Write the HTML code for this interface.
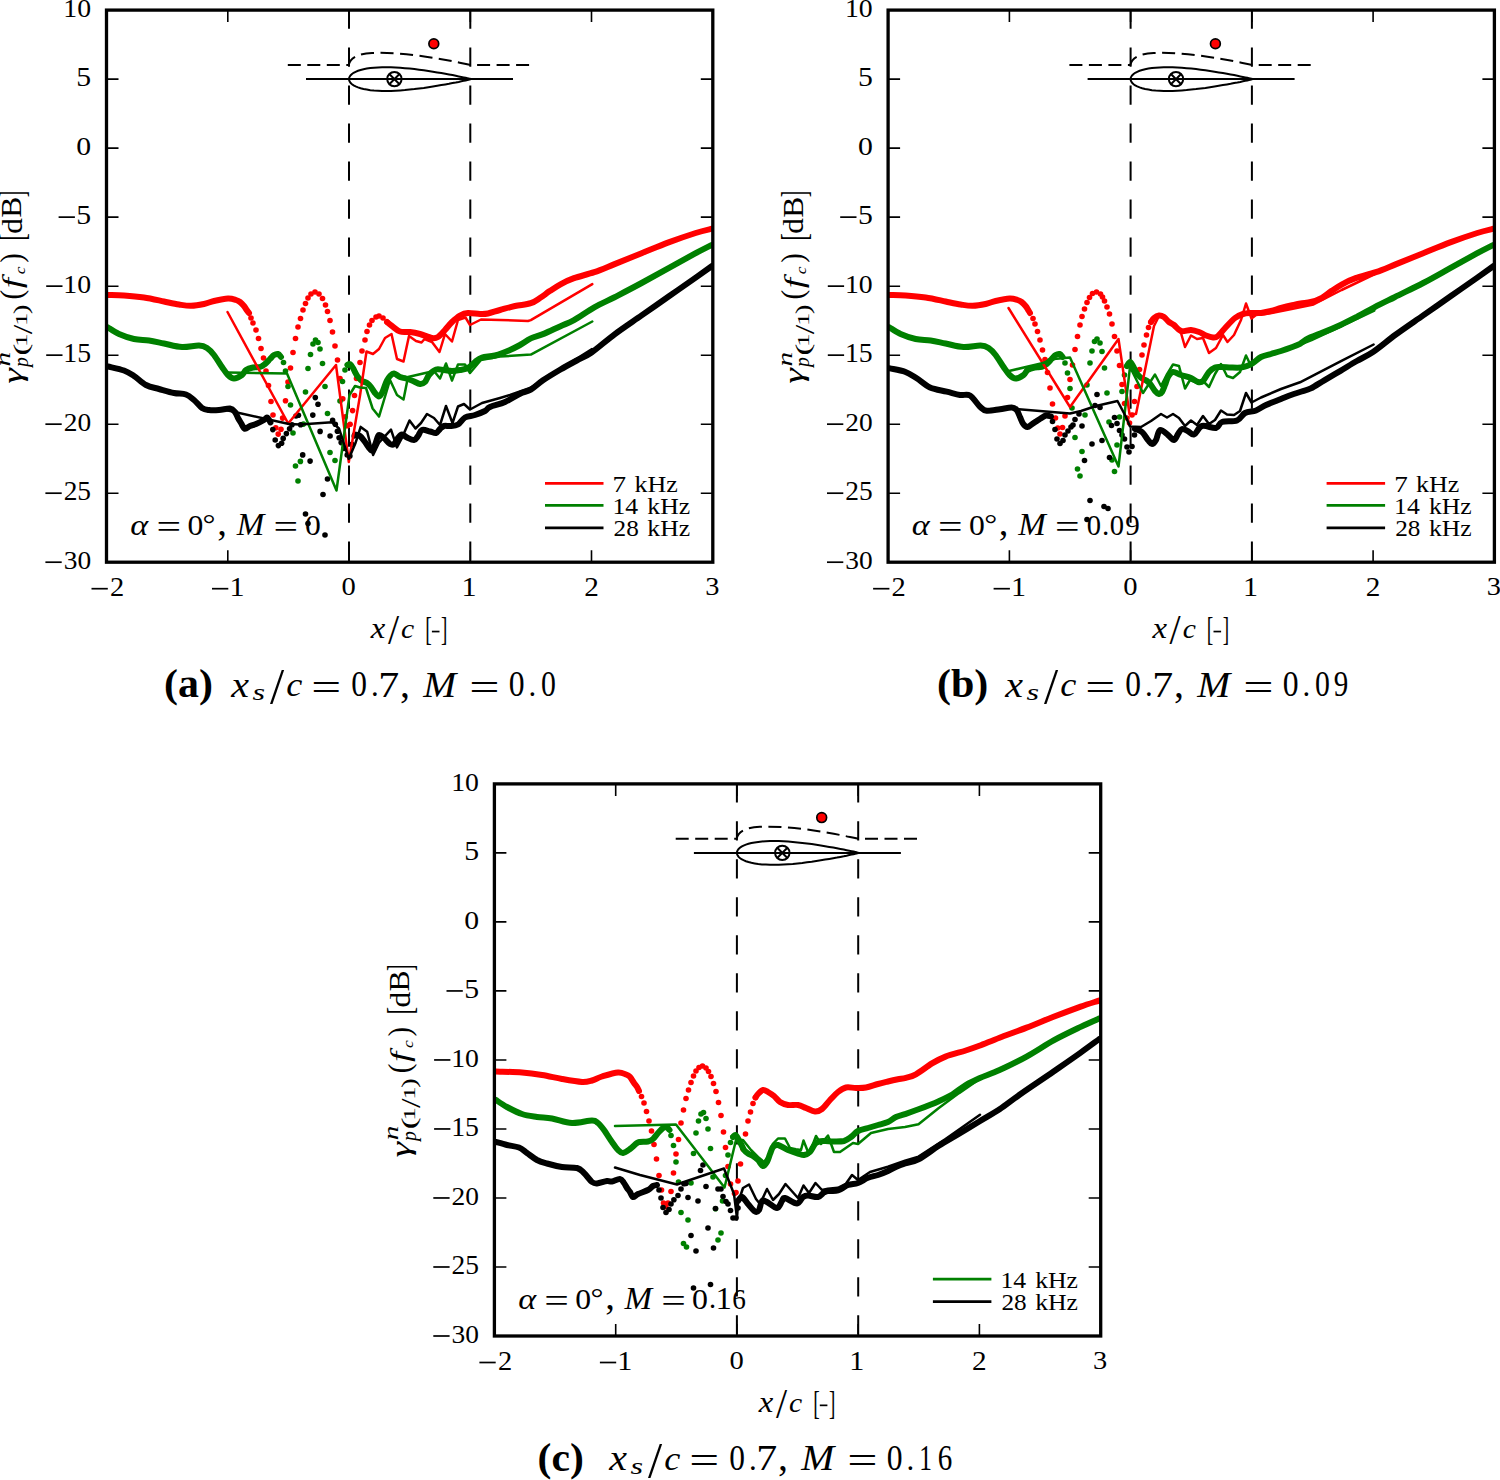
<!DOCTYPE html>
<html><head><meta charset="utf-8"><style>html,body{margin:0;padding:0;background:#fff;overflow:hidden;}svg{display:block;}</style></head>
<body><svg width="1500" height="1480" viewBox="0 0 1500 1480">
<rect width="1500" height="1480" fill="#fff"/>
<g transform="translate(0,0)"><clipPath id="clipa"><rect x="106.5" y="10.1" width="606.3" height="552.1"/></clipPath><line x1="349" y1="8.6" x2="349" y2="562.2" stroke="#000" stroke-width="2" stroke-dasharray="19.3 18.7" stroke-dashoffset="-0.8"/><line x1="470.3" y1="8.6" x2="470.3" y2="562.2" stroke="#000" stroke-width="2" stroke-dasharray="19.3 18.7" stroke-dashoffset="-0.8"/><path d="M349.0,79.1 L349.2,77.7 L349.8,76.4 L350.7,75.2 L352.0,74.0 L353.6,72.8 L355.6,71.8 L358.0,70.8 L360.6,70.0 L363.5,69.2 L366.8,68.6 L370.3,68.1 L374.0,67.7 L378.0,67.4 L382.1,67.2 L386.4,67.2 L390.9,67.3 L395.5,67.5 L400.2,67.8 L404.9,68.2 L409.6,68.6 L414.4,69.1 L419.1,69.7 L423.8,70.3 L428.4,71.0 L432.9,71.7 L437.2,72.4 L441.3,73.1 L445.3,73.8 L449.0,74.5 L452.5,75.1 L455.8,75.8 L458.7,76.4 L461.3,76.9 L463.7,77.4 L465.7,77.8 L467.3,78.2 L468.6,78.5 L469.5,78.7 L470.1,78.8 L470.3,78.9 L470.1,79.4 L469.5,79.5 L468.6,79.7 L467.3,80.0 L465.7,80.4 L463.7,80.8 L461.3,81.3 L458.7,81.9 L455.8,82.5 L452.5,83.1 L449.0,83.8 L445.3,84.4 L441.3,85.1 L437.2,85.8 L432.9,86.5 L428.4,87.2 L423.8,87.9 L419.1,88.5 L414.4,89.1 L409.6,89.6 L404.9,90.1 L400.2,90.4 L395.5,90.7 L390.9,90.9 L386.4,91.0 L382.1,91.0 L378.0,90.8 L374.0,90.6 L370.3,90.2 L366.8,89.6 L363.5,89.0 L360.6,88.2 L358.0,87.4 L355.6,86.4 L353.6,85.4 L352.0,84.2 L350.7,83.1 L349.8,81.8 L349.2,80.5 L349.0,79.1 Z" fill="none" stroke="#000" stroke-width="2"/><line x1="306" y1="79.1" x2="513" y2="79.1" stroke="#000" stroke-width="2"/><circle cx="394.4" cy="79.1" r="7.2" fill="none" stroke="#000" stroke-width="2"/><path d="M389.3,74.0 L399.5,84.2 M389.3,84.2 L399.5,74.0" stroke="#000" stroke-width="2"/><path d="M287.8,64.9 L348.8,64.9 C350,58 358,53.5 372,53 C395,52 420,55.5 440,59 C455,61.5 463,63.5 470.6,64.9 L530.4,64.9" fill="none" stroke="#000" stroke-width="2" stroke-dasharray="13 6.5"/><circle cx="433.8" cy="43.8" r="4.9" fill="#ff0000" stroke="#000" stroke-width="1.7"/><g clip-path="url(#clipa)"><path d="M108,295 C110.7,295.1 118,295.1 124,295.5 C130,295.9 137.3,296.5 144,297.5 C150.7,298.5 158.2,300.3 164,301.5 C169.8,302.7 174.5,303.8 179,304.5 C183.5,305.2 186.8,305.9 191,305.8 C195.2,305.7 200.2,304.8 204,304 C207.8,303.2 210,301.9 214,301 C218,300.1 224.3,298.7 228,298.5 C231.7,298.3 234,299.4 236,300 C238,300.6 238.7,301 240,302 C241.3,303 243,304.8 244,306 C245,307.2 245.2,307.8 246,309 C246.8,310.2 248.5,312.3 249,313" fill="none" stroke="#ff0000" stroke-width="6.0" stroke-linejoin="round" stroke-linecap="round"/><circle cx="251" cy="318" r="2.8" fill="#ff0000"/><circle cx="253" cy="323" r="2.8" fill="#ff0000"/><circle cx="256" cy="330" r="2.8" fill="#ff0000"/><circle cx="258.5" cy="338.5" r="2.8" fill="#ff0000"/><circle cx="261" cy="348.5" r="2.8" fill="#ff0000"/><circle cx="263.5" cy="358" r="2.8" fill="#ff0000"/><circle cx="266" cy="371" r="2.8" fill="#ff0000"/><circle cx="268.5" cy="385.5" r="2.8" fill="#ff0000"/><circle cx="271" cy="401.5" r="2.8" fill="#ff0000"/><circle cx="273" cy="415" r="2.8" fill="#ff0000"/><circle cx="275.8" cy="427.8" r="2.8" fill="#ff0000"/><circle cx="278.2" cy="434.1" r="2.8" fill="#ff0000"/><circle cx="281" cy="429.2" r="2.8" fill="#ff0000"/><circle cx="282.6" cy="418.1" r="2.8" fill="#ff0000"/><circle cx="285.5" cy="400.8" r="2.8" fill="#ff0000"/><circle cx="288" cy="382" r="2.8" fill="#ff0000"/><circle cx="290.5" cy="368" r="2.8" fill="#ff0000"/><circle cx="293" cy="352.5" r="2.8" fill="#ff0000"/><circle cx="295.5" cy="338.5" r="2.8" fill="#ff0000"/><circle cx="298" cy="327" r="2.8" fill="#ff0000"/><circle cx="300.5" cy="318.5" r="2.8" fill="#ff0000"/><circle cx="303" cy="310" r="2.8" fill="#ff0000"/><circle cx="305.5" cy="303.5" r="2.8" fill="#ff0000"/><circle cx="308" cy="298" r="2.8" fill="#ff0000"/><circle cx="311" cy="294" r="2.8" fill="#ff0000"/><circle cx="315" cy="292" r="2.8" fill="#ff0000"/><circle cx="319" cy="294" r="2.8" fill="#ff0000"/><circle cx="322.5" cy="298.5" r="2.8" fill="#ff0000"/><circle cx="325.5" cy="305" r="2.8" fill="#ff0000"/><circle cx="327.5" cy="311.5" r="2.8" fill="#ff0000"/><circle cx="330" cy="320.5" r="2.8" fill="#ff0000"/><circle cx="332.5" cy="332" r="2.8" fill="#ff0000"/><circle cx="335" cy="346" r="2.8" fill="#ff0000"/><circle cx="337.5" cy="360" r="2.8" fill="#ff0000"/><circle cx="340" cy="378.5" r="2.8" fill="#ff0000"/><circle cx="342.8" cy="398.8" r="2.8" fill="#ff0000"/><circle cx="345.3" cy="416.8" r="2.8" fill="#ff0000"/><circle cx="347.2" cy="425.8" r="2.8" fill="#ff0000"/><circle cx="350.1" cy="424.2" r="2.8" fill="#ff0000"/><circle cx="352.6" cy="410.6" r="2.8" fill="#ff0000"/><circle cx="354.5" cy="395.5" r="2.8" fill="#ff0000"/><circle cx="356.5" cy="378.5" r="2.8" fill="#ff0000"/><circle cx="360" cy="362.5" r="2.8" fill="#ff0000"/><circle cx="362" cy="351" r="2.8" fill="#ff0000"/><circle cx="365" cy="340" r="2.8" fill="#ff0000"/><circle cx="367" cy="331.5" r="2.8" fill="#ff0000"/><circle cx="369.5" cy="325" r="2.8" fill="#ff0000"/><circle cx="372" cy="320.5" r="2.8" fill="#ff0000"/><circle cx="376" cy="317" r="2.8" fill="#ff0000"/><circle cx="379" cy="316" r="2.8" fill="#ff0000"/><circle cx="383" cy="318" r="2.8" fill="#ff0000"/><circle cx="387" cy="322" r="2.8" fill="#ff0000"/><path d="M387,322 C387.8,322.7 389.8,324.4 392,326 C394.2,327.6 397,330.5 400,331.5 C403,332.5 406.7,331.6 410,332 C413.3,332.4 416.3,333 420,334 C423.7,335 429,337.5 432,338 C435,338.5 435.8,338.3 438,337 C440.2,335.7 442.7,332.5 445,330 C447.3,327.5 449.5,324.4 452,322 C454.5,319.6 457.3,317 460,315.5 C462.7,314 464.7,313.2 468,313 C471.3,312.8 476.7,313.9 480,314 C483.3,314.1 484.7,314.2 488,313.5 C491.3,312.8 495.5,311.2 500,310 C504.5,308.8 509.9,307.1 515,306 C520.1,304.9 526.6,304.6 530.8,303.2 C535,301.8 537.1,299.8 540.3,297.8 C543.4,295.8 546.3,293.4 549.7,291.1 C553.1,288.9 556.5,286.5 560.5,284.3 C564.5,282.1 568.4,280.2 574,278.2 C579.6,276.2 587.5,274.5 594.3,272.2 C601.1,269.9 606.7,267.3 614.6,264.1 C622.5,260.9 632.6,256.8 641.6,253.2 C650.6,249.6 659.6,245.8 668.6,242.4 C677.6,239 688.5,235.3 695.7,233 C702.9,230.7 709.3,229.4 712,228.7" fill="none" stroke="#ff0000" stroke-width="6.0" stroke-linejoin="round" stroke-linecap="round"/><path d="M108,327.5 C109.8,328.6 114.7,332.1 119,334 C123.3,335.9 129,337.9 134,339 C139,340.1 144,339.8 149,340.5 C154,341.2 158.5,342.4 164,343.5 C169.5,344.6 176.2,346.7 182,347 C187.8,347.3 194.8,345.3 199,345.5 C203.2,345.7 204.5,346.4 207,348 C209.5,349.6 211.5,351.8 214,355 C216.5,358.2 219.7,363.7 222,367 C224.3,370.3 226,373.1 228,375 C230,376.9 231.7,378.5 234,378.5 C236.3,378.5 240,376.4 242,375 C244,373.6 244.2,371.2 246,370 C247.8,368.8 250.7,368 253,367.5 C255.3,367 258,367.6 260,367 C262,366.4 263.3,365.3 265,364 C266.7,362.7 268.5,360.5 270,359 C271.5,357.5 272.7,355.8 274,355 C275.3,354.2 276.8,353.7 278,354 C279.2,354.3 280.5,356.5 281,357" fill="none" stroke="#008000" stroke-width="6.0" stroke-linejoin="round" stroke-linecap="round"/><circle cx="283.5" cy="362.5" r="2.8" fill="#008000"/><circle cx="285.5" cy="371" r="2.8" fill="#008000"/><circle cx="288" cy="386.5" r="2.8" fill="#008000"/><circle cx="290.5" cy="405" r="2.8" fill="#008000"/><circle cx="293" cy="433" r="2.8" fill="#008000"/><circle cx="295.5" cy="466" r="2.8" fill="#008000"/><circle cx="298" cy="481" r="2.8" fill="#008000"/><circle cx="300.4" cy="461.4" r="2.8" fill="#008000"/><circle cx="303.4" cy="424.1" r="2.8" fill="#008000"/><circle cx="305.5" cy="392" r="2.8" fill="#008000"/><circle cx="308" cy="368.5" r="2.8" fill="#008000"/><circle cx="310.5" cy="354.5" r="2.8" fill="#008000"/><circle cx="313" cy="344" r="2.8" fill="#008000"/><circle cx="315.5" cy="340" r="2.8" fill="#008000"/><circle cx="318" cy="342.5" r="2.8" fill="#008000"/><circle cx="320" cy="349" r="2.8" fill="#008000"/><circle cx="322.5" cy="363.5" r="2.8" fill="#008000"/><circle cx="325" cy="386.5" r="2.8" fill="#008000"/><circle cx="327.5" cy="413.5" r="2.8" fill="#008000"/><circle cx="330" cy="452.5" r="2.8" fill="#008000"/><circle cx="335" cy="460.5" r="2.8" fill="#008000"/><circle cx="340" cy="401" r="2.8" fill="#008000"/><circle cx="342.5" cy="381.5" r="2.8" fill="#008000"/><circle cx="345" cy="370" r="2.8" fill="#008000"/><circle cx="347.5" cy="365" r="2.8" fill="#008000"/><path d="M347.5,365 C347.9,364.8 349.1,363.5 350,364 C350.9,364.5 352.2,366.7 353,368 C353.8,369.3 354.2,370.5 355,372 C355.8,373.5 356.8,375.5 358,377 C359.2,378.5 360.5,380 362,381 C363.5,382 365.5,382 367,383 C368.5,384 369.7,385.3 371,387 C372.3,388.7 373.7,391.4 375,393 C376.3,394.6 377.8,396.5 379,396.5 C380.2,396.5 381.1,394.7 382,393 C382.9,391.3 383.7,388.6 384.5,386.5 C385.3,384.4 386.1,382.2 387,380.5 C387.9,378.8 388.8,377.2 390,376 C391.2,374.8 392.3,373.3 394,373.5 C395.7,373.7 398,376.2 400,377 C402,377.8 403.8,377.8 406,378.5 C408.2,379.2 410.7,380.1 413,381 C415.3,381.9 418,383.8 420,384 C422,384.2 423.5,383.5 425,382 C426.5,380.5 427.2,377.1 429,375 C430.8,372.9 433.5,370.3 436,369.5 C438.5,368.7 441.3,369.8 444,370 C446.7,370.2 449.3,371 452,371 C454.7,371 457.3,370.5 460,370 C462.7,369.5 465.5,369.3 468,368 C470.5,366.7 472.7,363.8 475,362 C477.3,360.2 478.7,358.6 482,357.5 C485.3,356.4 490.3,356.8 495,355.5 C499.7,354.2 505.8,351.8 510,350 C514.2,348.2 516.5,346.9 520,345 C523.5,343.1 526.8,340.3 530.8,338.4 C534.8,336.5 539.3,335.6 544.3,333.6 C549.2,331.6 555.5,328.4 560.5,326.2 C565.5,323.9 568.4,323.2 574,320.1 C579.6,317 587.5,311.1 594.3,307.3 C601.1,303.5 606.7,301.2 614.6,297.2 C622.5,293.1 632.6,287.9 641.6,283 C650.6,278.1 659.6,273.1 668.6,268.1 C677.6,263.1 688.5,257.1 695.7,253.2 C702.9,249.3 709.3,246.2 712,244.8" fill="none" stroke="#008000" stroke-width="6.0" stroke-linejoin="round" stroke-linecap="round"/><path d="M108,366.5 C110.7,367.2 119.7,368.9 124,370.5 C128.3,372.1 130.3,373.6 134,376 C137.7,378.4 141.8,382.8 146,385 C150.2,387.2 154.3,387.7 159,389 C163.7,390.3 169.5,392.1 174,393 C178.5,393.9 182.7,393.3 186,394.5 C189.3,395.7 191.3,397.8 194,400 C196.7,402.2 199.5,406.3 202,408 C204.5,409.7 206.2,409.7 209,410 C211.8,410.3 215.5,410.2 219,410 C222.5,409.8 227.3,408.2 230,408.5 C232.7,408.8 233.7,410.4 235,412 C236.3,413.6 237,416.2 238,418 C239,419.8 239.9,421.2 241,423 C242.1,424.8 243.3,428.3 244.8,428.8 C246.3,429.3 248.1,426.8 250,426 C251.9,425.2 253.7,425 256,424 C258.3,423 262.1,421.1 264,420 C265.9,418.9 266.1,417.2 267.2,417.6 C268.3,418 269.9,421.6 270.4,422.4" fill="none" stroke="#000000" stroke-width="6.0" stroke-linejoin="round" stroke-linecap="round"/><circle cx="272.8" cy="429.6" r="2.8" fill="#000000"/><circle cx="275.2" cy="440" r="2.8" fill="#000000"/><circle cx="278.4" cy="445.6" r="2.8" fill="#000000"/><circle cx="281.6" cy="443.2" r="2.8" fill="#000000"/><circle cx="283.2" cy="438.4" r="2.8" fill="#000000"/><circle cx="286.4" cy="433.6" r="2.8" fill="#000000"/><circle cx="289.6" cy="428.8" r="2.8" fill="#000000"/><circle cx="292" cy="424.8" r="2.8" fill="#000000"/><circle cx="296" cy="416" r="2.8" fill="#000000"/><circle cx="298.4" cy="415.2" r="2.8" fill="#000000"/><circle cx="300.6" cy="424.8" r="2.8" fill="#000000"/><circle cx="302.7" cy="454.9" r="2.8" fill="#000000"/><circle cx="305.5" cy="514" r="2.8" fill="#000000"/><circle cx="308" cy="523.5" r="2.8" fill="#000000"/><circle cx="310.1" cy="461.1" r="2.8" fill="#000000"/><circle cx="312.8" cy="415.1" r="2.8" fill="#000000"/><circle cx="315.3" cy="397.6" r="2.8" fill="#000000"/><circle cx="318" cy="404.3" r="2.8" fill="#000000"/><circle cx="320.1" cy="431.4" r="2.8" fill="#000000"/><circle cx="323" cy="494.5" r="2.8" fill="#000000"/><circle cx="325" cy="535" r="2.8" fill="#000000"/><circle cx="327.5" cy="479" r="2.8" fill="#000000"/><circle cx="330.1" cy="436" r="2.8" fill="#000000"/><circle cx="332.6" cy="420.4" r="2.8" fill="#000000"/><circle cx="335.3" cy="424.2" r="2.8" fill="#000000"/><circle cx="337.4" cy="431.2" r="2.8" fill="#000000"/><circle cx="339.1" cy="437.7" r="2.8" fill="#000000"/><circle cx="341.2" cy="442.6" r="2.8" fill="#000000"/><circle cx="343.9" cy="448.5" r="2.8" fill="#000000"/><circle cx="347.2" cy="455" r="2.8" fill="#000000"/><circle cx="349.9" cy="456.1" r="2.8" fill="#000000"/><circle cx="352" cy="444.2" r="2.8" fill="#000000"/><circle cx="354.2" cy="436" r="2.8" fill="#000000"/><path d="M355,434.5 C355.8,434.8 358.3,434.8 360,436 C361.7,437.2 363.3,439.8 365,442 C366.7,444.2 368.7,447.7 370,449 C371.3,450.3 372,451.2 373,450 C374,448.8 375,444.5 376,442 C377,439.5 377.7,435.7 379,435 C380.3,434.3 382.2,436.5 384,438 C385.8,439.5 388.3,443 390,444 C391.7,445 392.7,445 394,444 C395.3,443 396.7,439.6 398,438 C399.3,436.4 400.5,434.6 402,434.5 C403.5,434.4 405,436.6 407,437.5 C409,438.4 412.2,440.2 414,440 C415.8,439.8 416.7,437.7 418,436 C419.3,434.3 420,430.8 422,430 C424,429.2 427.7,431 430,431.5 C432.3,432 434.3,433.4 436,433 C437.7,432.6 438.7,430.2 440,429 C441.3,427.8 442.3,426.5 444,426 C445.7,425.5 447.7,426.2 450,426 C452.3,425.8 455.5,425.9 458,424.5 C460.5,423.1 462.2,419.1 465,417.5 C467.8,415.9 471.7,416.1 475,415 C478.3,413.9 482.5,412.3 485,411 C487.5,409.7 486.7,408.5 490,407 C493.3,405.5 500,404.2 505,402 C510,399.8 515.7,395.9 520,393.8 C524.3,391.8 527,391.9 530.8,389.7 C534.6,387.4 538,383.7 543,380.3 C548,376.9 554.9,372.8 560.5,369.5 C566.1,366.2 571.6,363.3 576.8,360.5 C582,357.7 585.3,356.9 591.6,352.5 C597.9,348.1 606.3,340.5 614.6,334.3 C622.9,328.1 632.6,321.7 641.6,315.4 C650.6,309.1 659.6,302.8 668.6,296.5 C677.6,290.2 688.5,282.7 695.7,277.6 C702.9,272.5 709.3,267.9 712,266" fill="none" stroke="#000000" stroke-width="6.0" stroke-linejoin="round" stroke-linecap="round"/><polyline points="227.5,312 288.2,423.5 336,365 348.8,462 360.1,395 366.5,351.5 373,354 379,349 385,338 391.5,334 397,359 403.5,361.5 409,336 416,341 421.5,342.5 424.5,339 432,342 439.5,352 445,334 452,341.5 458,320 465.5,317.5 470,325 481,319.5 500,320 528,321 530.8,320.1 592.3,284.1" fill="none" stroke="#ff0000" stroke-width="2.5" stroke-linejoin="round" stroke-linecap="round"/><polyline points="228,372.5 287,373.5 336.5,490.5 349.5,395 355,386 360,387.5 366,388 372.6,408.5 379,416.6 390,380 397,395 403.5,399.5 408,377 434,371 440,378.5 446,363.5 452,380.5 458,364.5 465,364.5 470,373 481,360 500,356.5 530.8,354.6 592.3,321.5" fill="none" stroke="#008000" stroke-width="2.5" stroke-linejoin="round" stroke-linecap="round"/><polyline points="228,410.5 289,424 300,424.5 332,422.3 339,428.5 348.8,458.8 355.3,443.6 360.7,426.9 367.2,431.8 373.1,455 379,442.6 391,429.6 396.9,447.4 401.8,438.2 409.5,420.5 415.5,428.5 421,423 427,414 434,418 440,425 446,406 452.5,423 458,406.5 464,404 470,409.5 482,403 500,398 510,395 530,388 592,349" fill="none" stroke="#000000" stroke-width="2.5" stroke-linejoin="round" stroke-linecap="round"/></g><rect x="106.5" y="10.1" width="606.3" height="552.1" fill="none" stroke="#000" stroke-width="3.3"/><path d="M227.8,10.1 v12 M227.8,562.2 v-12 M349,10.1 v12 M349,562.2 v-12 M470.3,10.1 v12 M470.3,562.2 v-12 M591.5,10.1 v12 M591.5,562.2 v-12 M106.5,493.2 h12 M712.8,493.2 h-12 M106.5,424.2 h12 M712.8,424.2 h-12 M106.5,355.2 h12 M712.8,355.2 h-12 M106.5,286.2 h12 M712.8,286.2 h-12 M106.5,217.1 h12 M712.8,217.1 h-12 M106.5,148.1 h12 M712.8,148.1 h-12 M106.5,79.1 h12 M712.8,79.1 h-12" stroke="#000" stroke-width="1.6" fill="none"/><g font-family="Liberation Serif"><text transform="translate(63.67,569.14) scale(1.031,0.980)" font-size="26.60">30</text><rect x="45.40" y="561.35" width="16.30" height="1.7"/><text transform="translate(63.67,500.12) scale(1.031,0.988)" font-size="26.60">25</text><rect x="45.40" y="492.34" width="16.30" height="1.7"/><text transform="translate(63.67,431.11) scale(1.031,0.980)" font-size="26.60">20</text><rect x="45.40" y="423.32" width="16.30" height="1.7"/><text transform="translate(63.34,362.10) scale(1.044,0.988)" font-size="26.60">15</text><rect x="46.20" y="354.31" width="16.30" height="1.7"/><text transform="translate(63.34,293.09) scale(1.044,0.980)" font-size="26.60">10</text><rect x="46.20" y="285.30" width="16.30" height="1.7"/><text transform="translate(76.31,224.07) scale(1.118,0.995)" font-size="26.60">5</text><rect x="58.60" y="216.29" width="16.30" height="1.7"/><text transform="translate(76.31,155.06) scale(1.119,0.980)" font-size="26.60">0</text><text transform="translate(76.31,86.05) scale(1.118,0.995)" font-size="26.60">5</text><text transform="translate(63.34,17.04) scale(1.044,0.980)" font-size="26.60">10</text><text transform="translate(110.02,595.70) scale(1.071,0.991)" font-size="26.60">2</text><rect x="91.50" y="587.85" width="16.30" height="1.7"/><text transform="translate(229.44,595.70) scale(1.133,0.991)" font-size="26.60">1</text><rect x="212.00" y="587.85" width="16.30" height="1.7"/><text transform="translate(341.56,595.44) scale(1.074,0.969)" font-size="26.60">0</text><text transform="translate(461.44,595.70) scale(1.133,0.991)" font-size="26.60">1</text><text transform="translate(584.18,595.70) scale(1.100,0.991)" font-size="26.60">2</text><text transform="translate(705.22,595.44) scale(1.069,0.976)" font-size="26.60">3</text><text transform="translate(370.79,638.00) scale(1.089,0.964)" font-size="30.00" font-style="italic">x</text><text transform="translate(388.00,644.27) scale(1.333,1.428)" font-size="30.00">/</text><text transform="translate(401.11,637.72) scale(0.988,0.924)" font-size="30.00" font-style="italic">c</text><text transform="translate(425.23,640.03) scale(0.652,1.153)" font-size="30.00">[</text><rect x="431.9" y="630.7" width="7.6" height="1.7"/><text transform="translate(441.03,640.03) scale(0.637,1.153)" font-size="30.00">]</text><g transform="translate(21.6,382.9) rotate(-90)"><text transform="translate(-0.79,0.28) scale(1.316,0.933)" font-size="30.00" font-style="italic">γ</text><text transform="translate(16.48,-11.20) scale(1.459,1.000)" font-size="20.00" font-style="italic">n</text><text transform="translate(15.78,6.27) scale(0.981,1.007)" font-size="20.00" font-style="italic">p</text><text transform="translate(27.24,6.65) scale(1.843,1.011)" font-size="20.00">(</text><text transform="translate(36.00,5.80) scale(1.591,0.963)" font-size="17.00">1</text><text transform="translate(48.70,10.73) scale(1.727,1.373)" font-size="20.00">/</text><text transform="translate(56.83,5.80) scale(1.574,0.963)" font-size="17.00">1</text><text transform="translate(68.62,6.65) scale(1.462,1.011)" font-size="20.00">)</text><text transform="translate(83.38,0.09) scale(0.980,1.040)" font-size="30.00">(</text><text transform="translate(94.73,-0.16) scale(1.221,0.924)" font-size="30.00" font-style="italic">f</text><text transform="translate(108.67,3.25) scale(0.877,0.729)" font-size="20.00" font-style="italic">c</text><text transform="translate(120.23,0.09) scale(0.962,1.040)" font-size="30.00">)</text><text transform="translate(142.46,2.68) scale(0.727,1.165)" font-size="30.00">[</text><text transform="translate(149.11,0.01) scale(1.040,0.969)" font-size="30.00">d</text><text transform="translate(165.15,-0.15) scale(1.051,1.005)" font-size="30.00">B</text><text transform="translate(185.62,2.68) scale(0.652,1.165)" font-size="30.00">]</text></g><text transform="translate(130.27,534.81) scale(1.107,0.941)" font-size="31.00" font-style="italic">α</text><text transform="translate(156.42,538.49) scale(1.408,1.084)" font-size="31.00">=</text><text transform="translate(187.43,534.80) scale(1.022,0.970)" font-size="31.00">0</text><text transform="translate(202.54,533.11) scale(1.047,0.888)" font-size="31.00">°</text><text transform="translate(217.26,534.94) scale(1.246,1.240)" font-size="31.00">,</text><text transform="translate(236.63,535.10) scale(1.069,1.000)" font-size="31.00" font-style="italic">M</text><text transform="translate(273.42,538.49) scale(1.408,1.084)" font-size="31.00">=</text><text transform="translate(304.93,534.80) scale(1.022,0.970)" font-size="31.00">0</text><line x1="545" y1="483.4" x2="603.5" y2="483.4" stroke="#ff0000" stroke-width="2.8"/><text transform="translate(612.53,491.70) scale(1.207,1.038)" font-size="22.50">7</text><text transform="translate(634.48,491.70) scale(1.156,1.023)" font-size="22.50">kHz</text><line x1="545" y1="505.4" x2="603.5" y2="505.4" stroke="#008000" stroke-width="2.8"/><text transform="translate(612.52,513.70) scale(1.141,1.030)" font-size="22.50">14</text><text transform="translate(647.29,513.70) scale(1.142,1.023)" font-size="22.50">kHz</text><line x1="545" y1="527.9" x2="603.5" y2="527.9" stroke="#000000" stroke-width="2.8"/><text transform="translate(613.56,535.77) scale(1.122,1.007)" font-size="22.50">28</text><text transform="translate(647.29,536.00) scale(1.142,1.023)" font-size="22.50">kHz</text><g transform="translate(0.00,0)"><text transform="translate(164.11,697.49) scale(1.165,1.099)" font-size="36.00" font-weight="bold">(a)</text><text transform="translate(231.30,696.50) scale(1.111,0.996)" font-size="36.00" font-style="italic">x</text><text transform="translate(252.38,699.76) scale(1.291,0.942)" font-size="25.00" font-style="italic">s</text><text transform="translate(270.00,703.49) scale(1.414,1.410)" font-size="36.00">/</text><text transform="translate(286.21,696.16) scale(1.008,0.955)" font-size="36.00" font-style="italic">c</text><text transform="translate(311.34,699.63) scale(1.476,1.033)" font-size="36.00">=</text><text transform="translate(351.24,696.14) scale(0.873,0.988)" font-size="36.00">0</text><text transform="translate(371.00,696.02) scale(0.856,0.880)" font-size="36.00">.</text><text transform="translate(378.27,696.50) scale(1.166,1.018)" font-size="36.00">7</text><text transform="translate(400.00,696.62) scale(1.111,1.089)" font-size="36.00">,</text><text transform="translate(423.20,696.50) scale(1.099,1.018)" font-size="36.00" font-style="italic">M</text><text transform="translate(469.31,699.63) scale(1.493,1.033)" font-size="36.00">=</text><text transform="translate(508.73,696.14) scale(0.880,0.988)" font-size="36.00">0</text><text transform="translate(528.60,696.02) scale(0.856,0.880)" font-size="36.00">.</text><text transform="translate(541.11,696.14) scale(0.827,0.988)" font-size="36.00">0</text></g></g></g><g transform="translate(781.6,0)"><clipPath id="clipb"><rect x="106.5" y="10.1" width="606.3" height="552.1"/></clipPath><line x1="349" y1="8.6" x2="349" y2="562.2" stroke="#000" stroke-width="2" stroke-dasharray="19.3 18.7" stroke-dashoffset="-0.8"/><line x1="470.3" y1="8.6" x2="470.3" y2="562.2" stroke="#000" stroke-width="2" stroke-dasharray="19.3 18.7" stroke-dashoffset="-0.8"/><path d="M349.0,79.1 L349.2,77.7 L349.8,76.4 L350.7,75.2 L352.0,74.0 L353.6,72.8 L355.6,71.8 L358.0,70.8 L360.6,70.0 L363.5,69.2 L366.8,68.6 L370.3,68.1 L374.0,67.7 L378.0,67.4 L382.1,67.2 L386.4,67.2 L390.9,67.3 L395.5,67.5 L400.2,67.8 L404.9,68.2 L409.6,68.6 L414.4,69.1 L419.1,69.7 L423.8,70.3 L428.4,71.0 L432.9,71.7 L437.2,72.4 L441.3,73.1 L445.3,73.8 L449.0,74.5 L452.5,75.1 L455.8,75.8 L458.7,76.4 L461.3,76.9 L463.7,77.4 L465.7,77.8 L467.3,78.2 L468.6,78.5 L469.5,78.7 L470.1,78.8 L470.3,78.9 L470.1,79.4 L469.5,79.5 L468.6,79.7 L467.3,80.0 L465.7,80.4 L463.7,80.8 L461.3,81.3 L458.7,81.9 L455.8,82.5 L452.5,83.1 L449.0,83.8 L445.3,84.4 L441.3,85.1 L437.2,85.8 L432.9,86.5 L428.4,87.2 L423.8,87.9 L419.1,88.5 L414.4,89.1 L409.6,89.6 L404.9,90.1 L400.2,90.4 L395.5,90.7 L390.9,90.9 L386.4,91.0 L382.1,91.0 L378.0,90.8 L374.0,90.6 L370.3,90.2 L366.8,89.6 L363.5,89.0 L360.6,88.2 L358.0,87.4 L355.6,86.4 L353.6,85.4 L352.0,84.2 L350.7,83.1 L349.8,81.8 L349.2,80.5 L349.0,79.1 Z" fill="none" stroke="#000" stroke-width="2"/><line x1="306" y1="79.1" x2="513" y2="79.1" stroke="#000" stroke-width="2"/><circle cx="394.4" cy="79.1" r="7.2" fill="none" stroke="#000" stroke-width="2"/><path d="M389.3,74.0 L399.5,84.2 M389.3,84.2 L399.5,74.0" stroke="#000" stroke-width="2"/><path d="M287.8,64.9 L348.8,64.9 C350,58 358,53.5 372,53 C395,52 420,55.5 440,59 C455,61.5 463,63.5 470.6,64.9 L530.4,64.9" fill="none" stroke="#000" stroke-width="2" stroke-dasharray="13 6.5"/><circle cx="433.8" cy="43.8" r="4.9" fill="#ff0000" stroke="#000" stroke-width="1.7"/><g clip-path="url(#clipb)"><path d="M108,295 C110.7,295.1 118,295.1 124,295.5 C130,295.9 137.3,296.5 144,297.5 C150.7,298.5 158.2,300.3 164,301.5 C169.8,302.7 174.5,303.8 179,304.5 C183.5,305.2 186.8,305.9 191,305.8 C195.2,305.7 200.2,304.8 204,304 C207.8,303.2 210,301.9 214,301 C218,300.1 224.3,298.7 228,298.5 C231.7,298.3 234,299.4 236,300 C238,300.6 238.7,301 240,302 C241.3,303 243,304.8 244,306 C245,307.2 245.3,307.8 246,309 C246.7,310.2 248,312.3 248.4,313" fill="none" stroke="#ff0000" stroke-width="6.0" stroke-linejoin="round" stroke-linecap="round"/><circle cx="251.4" cy="318.5" r="2.8" fill="#ff0000"/><circle cx="253.4" cy="324" r="2.8" fill="#ff0000"/><circle cx="255.9" cy="331.5" r="2.8" fill="#ff0000"/><circle cx="258.4" cy="340" r="2.8" fill="#ff0000"/><circle cx="260.9" cy="350" r="2.8" fill="#ff0000"/><circle cx="263.4" cy="359.5" r="2.8" fill="#ff0000"/><circle cx="265.9" cy="372.5" r="2.8" fill="#ff0000"/><circle cx="268.4" cy="388" r="2.8" fill="#ff0000"/><circle cx="270.9" cy="404" r="2.8" fill="#ff0000"/><circle cx="273.9" cy="418" r="2.8" fill="#ff0000"/><circle cx="276.2" cy="428" r="2.8" fill="#ff0000"/><circle cx="278.4" cy="434" r="2.8" fill="#ff0000"/><circle cx="280.9" cy="427.5" r="2.8" fill="#ff0000"/><circle cx="283.4" cy="416" r="2.8" fill="#ff0000"/><circle cx="285.9" cy="397.5" r="2.8" fill="#ff0000"/><circle cx="288.4" cy="379.5" r="2.8" fill="#ff0000"/><circle cx="290.9" cy="365" r="2.8" fill="#ff0000"/><circle cx="293.4" cy="349.5" r="2.8" fill="#ff0000"/><circle cx="295.9" cy="336.5" r="2.8" fill="#ff0000"/><circle cx="298.4" cy="325" r="2.8" fill="#ff0000"/><circle cx="300.4" cy="316.5" r="2.8" fill="#ff0000"/><circle cx="302.9" cy="309" r="2.8" fill="#ff0000"/><circle cx="305.4" cy="302.5" r="2.8" fill="#ff0000"/><circle cx="307.9" cy="297.5" r="2.8" fill="#ff0000"/><circle cx="310.9" cy="293.5" r="2.8" fill="#ff0000"/><circle cx="314.9" cy="292" r="2.8" fill="#ff0000"/><circle cx="318.9" cy="294" r="2.8" fill="#ff0000"/><circle cx="320.9" cy="297" r="2.8" fill="#ff0000"/><circle cx="322.9" cy="301" r="2.8" fill="#ff0000"/><circle cx="325.4" cy="307" r="2.8" fill="#ff0000"/><circle cx="327.9" cy="314" r="2.8" fill="#ff0000"/><circle cx="330.4" cy="324" r="2.8" fill="#ff0000"/><circle cx="332.9" cy="336.5" r="2.8" fill="#ff0000"/><circle cx="335.4" cy="351" r="2.8" fill="#ff0000"/><circle cx="337.9" cy="365.5" r="2.8" fill="#ff0000"/><circle cx="340.4" cy="384.5" r="2.8" fill="#ff0000"/><circle cx="342.9" cy="403.5" r="2.8" fill="#ff0000"/><circle cx="345.4" cy="418" r="2.8" fill="#ff0000"/><circle cx="347.9" cy="423" r="2.8" fill="#ff0000"/><circle cx="350.4" cy="415" r="2.8" fill="#ff0000"/><circle cx="352.9" cy="401.5" r="2.8" fill="#ff0000"/><circle cx="355.4" cy="386.5" r="2.8" fill="#ff0000"/><circle cx="357.9" cy="369.5" r="2.8" fill="#ff0000"/><circle cx="360.4" cy="355" r="2.8" fill="#ff0000"/><circle cx="362.4" cy="345" r="2.8" fill="#ff0000"/><circle cx="364.9" cy="335" r="2.8" fill="#ff0000"/><circle cx="366.9" cy="327.5" r="2.8" fill="#ff0000"/><circle cx="369.4" cy="322" r="2.8" fill="#ff0000"/><path d="M369.4,322 C369.9,321.3 371.1,319.1 372.4,318 C373.7,316.9 375.7,315.7 377.4,315.5 C379.1,315.3 380.7,315.9 382.4,317 C384.1,318.1 385.7,320.7 387.4,322 C389.1,323.3 390.4,323.5 392.4,325 C394.4,326.5 396.6,330.2 399.4,331 C402.2,331.8 406.4,329.8 409.4,330 C412.4,330.2 414.9,331.1 417.4,332 C419.9,332.9 422.1,334.6 424.4,335.5 C426.7,336.4 429.4,337.4 431.4,337.5 C433.4,337.6 434.2,337.8 436.4,336 C438.6,334.2 441.6,330 444.4,327 C447.2,324 450.6,320.2 453.4,318 C456.2,315.8 458.7,314.8 461.4,314 C464.1,313.2 466.4,313.2 469.4,313 C472.4,312.8 476.1,313.3 479.4,313 C482.7,312.7 486.1,311.8 489.4,311 C492.7,310.2 496.1,308.9 499.4,308 C502.7,307.1 506.1,306.2 509.4,305.5 C512.7,304.8 515.7,304.1 519,303.5 C522.3,302.9 525.7,302.9 529.2,302 C532.8,301.1 536.9,299.6 540.3,297.8 C543.7,296 546.3,293.4 549.7,291.1 C553.1,288.9 556.5,286.5 560.5,284.3 C564.5,282.1 568.4,280.2 574,278.2 C579.6,276.2 587.5,274.5 594.3,272.2 C601.1,269.9 606.7,267.3 614.6,264.1 C622.5,260.9 632.6,256.8 641.6,253.2 C650.6,249.6 659.6,245.8 668.6,242.4 C677.6,239 688.5,235.3 695.7,233 C702.9,230.7 709.3,229.4 712,228.7" fill="none" stroke="#ff0000" stroke-width="6.0" stroke-linejoin="round" stroke-linecap="round"/><path d="M108,327.5 C109.8,328.6 114.7,332.1 119,334 C123.3,335.9 129,337.9 134,339 C139,340.1 144,339.8 149,340.5 C154,341.2 158.5,342.4 164,343.5 C169.5,344.6 176.2,346.7 182,347 C187.8,347.3 194.8,345.3 199,345.5 C203.2,345.7 204.5,346.4 207,348 C209.5,349.6 211.5,351.8 214,355 C216.5,358.2 219.7,363.7 222,367 C224.3,370.3 226,373.1 228,375 C230,376.9 231.7,378.5 234,378.5 C236.3,378.5 240,376.4 242,375 C244,373.6 244.2,371.2 246,370 C247.8,368.8 250.7,368 253,367.5 C255.3,367 258,367.6 260,367 C262,366.4 263.3,365.3 265,364 C266.7,362.7 268.5,360.5 270,359 C271.5,357.5 272.7,355.8 274,355 C275.3,354.2 276.8,353.7 278,354 C279.2,354.3 280.5,356.5 281,357" fill="none" stroke="#008000" stroke-width="6.0" stroke-linejoin="round" stroke-linecap="round"/><circle cx="283.4" cy="363" r="2.8" fill="#008000"/><circle cx="285.9" cy="373" r="2.8" fill="#008000"/><circle cx="288.4" cy="388.5" r="2.8" fill="#008000"/><circle cx="290.4" cy="408" r="2.8" fill="#008000"/><circle cx="293.4" cy="437.5" r="2.8" fill="#008000"/><circle cx="295.9" cy="469" r="2.8" fill="#008000"/><circle cx="298.4" cy="476" r="2.8" fill="#008000"/><circle cx="300.4" cy="451.5" r="2.8" fill="#008000"/><circle cx="303.4" cy="415" r="2.8" fill="#008000"/><circle cx="305.4" cy="385" r="2.8" fill="#008000"/><circle cx="308.4" cy="363" r="2.8" fill="#008000"/><circle cx="310.4" cy="351" r="2.8" fill="#008000"/><circle cx="312.9" cy="341.5" r="2.8" fill="#008000"/><circle cx="315.4" cy="339" r="2.8" fill="#008000"/><circle cx="318.4" cy="343" r="2.8" fill="#008000"/><circle cx="320.4" cy="351.5" r="2.8" fill="#008000"/><circle cx="322.9" cy="368" r="2.8" fill="#008000"/><circle cx="325.4" cy="393" r="2.8" fill="#008000"/><circle cx="327.4" cy="422" r="2.8" fill="#008000"/><circle cx="330.4" cy="460" r="2.8" fill="#008000"/><circle cx="332.9" cy="471.5" r="2.8" fill="#008000"/><circle cx="335.4" cy="445" r="2.8" fill="#008000"/><circle cx="337.9" cy="417" r="2.8" fill="#008000"/><circle cx="340.4" cy="391.5" r="2.8" fill="#008000"/><circle cx="342.9" cy="375" r="2.8" fill="#008000"/><circle cx="345.4" cy="366" r="2.8" fill="#008000"/><path d="M345.4,366 C345.9,365.3 347.4,362 348.4,362 C349.4,362 350.4,364.3 351.4,366 C352.4,367.7 353.4,370.3 354.4,372 C355.4,373.7 356.2,374.8 357.4,376 C358.6,377.2 360.1,378.2 361.4,379 C362.7,379.8 364.1,380 365.4,381 C366.7,382 368.1,383.3 369.4,385 C370.7,386.7 372.1,389.5 373.4,391 C374.7,392.5 376.2,393.8 377.4,394 C378.6,394.2 379.4,393.5 380.4,392 C381.4,390.5 382.4,387.5 383.4,385 C384.4,382.5 385.1,379.2 386.4,377 C387.7,374.8 389.2,372.3 391.4,372 C393.6,371.7 396.4,374 399.4,375 C402.4,376 406.6,376.8 409.4,378 C412.2,379.2 414.4,381.5 416.4,382 C418.4,382.5 419.6,382.7 421.4,381 C423.2,379.3 425.4,374.2 427.4,372 C429.4,369.8 431.4,368.3 433.4,367.5 C435.4,366.7 436.7,367 439.4,367 C442.1,367 446.1,367.4 449.4,367.5 C452.7,367.6 456.7,367.8 459.4,367.5 C462.1,367.2 463.4,366.8 465.4,366 C467.4,365.2 469.1,364.5 471.4,363 C473.7,361.5 476.4,358.5 479.4,357 C482.4,355.5 486.1,355 489.4,354 C492.7,353 496.1,352.1 499.4,351 C502.7,349.9 506.2,348.7 509.4,347.5 C512.6,346.3 515.5,345.3 518.4,343.8 C521.2,342.3 523.1,340.1 526.5,338.4 C529.9,336.7 533.3,335.9 538.7,333.6 C544.1,331.4 552.8,327.7 558.9,324.9 C565,322.1 569.6,319.7 575.2,316.8 C580.8,313.9 586.4,310.6 592.7,307.3 C599,304 604.9,301.2 613,297.2 C621.1,293.1 632.3,287.9 641.6,283 C650.9,278.1 659.6,273.1 668.6,268.1 C677.6,263.1 688.5,257.1 695.7,253.2 C702.9,249.3 709.3,246.2 712,244.8" fill="none" stroke="#008000" stroke-width="6.0" stroke-linejoin="round" stroke-linecap="round"/><path d="M108.4,368.3 C110.9,368.9 119,370 123.4,371.7 C127.9,373.4 130.9,375.7 135.1,378.3 C139.3,380.9 143.4,385.3 148.4,387.5 C153.4,389.7 160.1,390.4 165.1,391.7 C170.1,392.9 174.5,394.4 178.4,395 C182.3,395.6 185.1,393.6 188.4,395.5 C191.7,397.4 195.6,404.1 198.4,406.7 C201.2,409.2 201.8,410.4 205.1,410.8 C208.4,411.2 214.2,409.8 218.4,409.2 C222.6,408.6 227.3,407.4 230.1,407.5 C232.9,407.6 233.7,408.4 235.1,410 C236.5,411.6 237.3,414.7 238.4,417 C239.5,419.3 240.4,422.3 241.7,424 C242.9,425.7 244.5,426.9 245.9,427 C247.3,427.1 248.6,425.4 250,424.5 C251.4,423.6 252.9,422.5 254.4,421.5 C255.9,420.5 257.3,419.5 259,418.5 C260.7,417.5 262.7,415.8 264.4,415.5 C266.1,415.2 268.6,416.3 269.4,416.5" fill="none" stroke="#000000" stroke-width="6.0" stroke-linejoin="round" stroke-linecap="round"/><circle cx="270.9" cy="421.5" r="2.8" fill="#000000"/><circle cx="273.4" cy="429.5" r="2.8" fill="#000000"/><circle cx="275.4" cy="439" r="2.8" fill="#000000"/><circle cx="278.4" cy="443.5" r="2.8" fill="#000000"/><circle cx="281.4" cy="440.5" r="2.8" fill="#000000"/><circle cx="283.4" cy="435" r="2.8" fill="#000000"/><circle cx="286.4" cy="431" r="2.8" fill="#000000"/><circle cx="289.4" cy="427" r="2.8" fill="#000000"/><circle cx="291.4" cy="425" r="2.8" fill="#000000"/><circle cx="293.4" cy="419.5" r="2.8" fill="#000000"/><circle cx="297.4" cy="414" r="2.8" fill="#000000"/><circle cx="300.4" cy="426" r="2.8" fill="#000000"/><circle cx="302.9" cy="460.5" r="2.8" fill="#000000"/><circle cx="305.4" cy="519.5" r="2.8" fill="#000000"/><circle cx="308.4" cy="500.5" r="2.8" fill="#000000"/><circle cx="310.4" cy="444" r="2.8" fill="#000000"/><circle cx="313.4" cy="405.5" r="2.8" fill="#000000"/><circle cx="315.4" cy="394.5" r="2.8" fill="#000000"/><circle cx="318.4" cy="407.5" r="2.8" fill="#000000"/><circle cx="320.4" cy="440.5" r="2.8" fill="#000000"/><circle cx="322.4" cy="506.5" r="2.8" fill="#000000"/><circle cx="326.4" cy="508.5" r="2.8" fill="#000000"/><circle cx="327.9" cy="457.5" r="2.8" fill="#000000"/><circle cx="329.9" cy="425.5" r="2.8" fill="#000000"/><circle cx="332.9" cy="417.5" r="2.8" fill="#000000"/><circle cx="335.4" cy="423.5" r="2.8" fill="#000000"/><circle cx="337.9" cy="430.5" r="2.8" fill="#000000"/><circle cx="340.4" cy="435" r="2.8" fill="#000000"/><circle cx="342.9" cy="439" r="2.8" fill="#000000"/><circle cx="345.4" cy="447" r="2.8" fill="#000000"/><circle cx="347.4" cy="452" r="2.8" fill="#000000"/><circle cx="350.4" cy="446.5" r="2.8" fill="#000000"/><circle cx="352.9" cy="435" r="2.8" fill="#000000"/><path d="M353.4,429 C354.6,429.5 358.2,430.2 360.4,432 C362.6,433.8 364.7,438 366.4,440 C368.1,442 369.1,444 370.4,444 C371.7,444 373.1,442.3 374.4,440 C375.7,437.7 376.4,430.8 378.4,430 C380.4,429.2 384.1,433.3 386.4,435 C388.7,436.7 390.7,440.2 392.4,440 C394.1,439.8 395.1,435.8 396.4,434 C397.7,432.2 398.8,429.5 400.4,429 C402,428.5 404,430.1 406,431 C408,431.9 410,435.3 412.4,434.5 C414.8,433.7 416.7,427.1 420.4,426 C424.1,424.9 431.1,428.7 434.4,428 C437.7,427.3 436.9,423.2 440.4,422 C443.9,420.8 451.6,422 455.4,420.5 C459.2,419 460.2,414.7 463.4,413 C466.6,411.3 470.9,411.8 474.4,410.5 C477.9,409.2 480.2,406.9 484.4,405 C488.6,403.1 495.2,400.7 499.4,399 C503.6,397.3 506,396.2 509.4,395 C512.8,393.8 516.7,392.6 520,391.5 C523.3,390.4 525.4,390.3 529.2,388.4 C533,386.5 537.8,383.2 542.7,380.3 C547.7,377.4 553.5,374 558.9,370.8 C564.3,367.6 569.8,364.1 575.2,361 C580.6,357.9 584.8,356.4 591.4,352 C598,347.6 606.2,340.4 614.6,334.3 C623,328.2 632.6,321.7 641.6,315.4 C650.6,309.1 659.6,302.8 668.6,296.5 C677.6,290.2 688.5,282.7 695.7,277.6 C702.9,272.5 709.3,267.9 712,266" fill="none" stroke="#000000" stroke-width="6.0" stroke-linejoin="round" stroke-linecap="round"/><polyline points="226.9,308 288.4,407 336.9,339 347.9,414 354.4,414 372.4,326 377.4,316 384,318 392.4,325 399.4,333 403.4,347 409.4,335.5 415.4,339 421.4,338 427.4,353 434.4,348 441.4,335 445.9,342 452.4,335 459.4,320 464.4,303.5 469.9,318.5 474.4,315 490,313 510,309 531.9,304.5 560,290 592.3,274.5" fill="none" stroke="#ff0000" stroke-width="2.5" stroke-linejoin="round" stroke-linecap="round"/><polyline points="227.4,371 261.4,363 272.4,359 288.4,357.5 336.9,466.5 348.4,367 361.4,393 373.4,374.5 379.4,386 385,375 391.4,364.5 397.4,366 403.4,388.5 408.4,380 416,383 421.4,381 427.4,387 433.4,374 439.4,364 445.4,376 451.4,378 458.4,372 464.4,355.5 469.4,366 479.4,357 489.4,354 510,348 530,340 560,326 592.7,310.7" fill="none" stroke="#008000" stroke-width="2.5" stroke-linejoin="round" stroke-linecap="round"/><polyline points="228,408.5 288.4,413.5 299.4,411 314.4,406 335.9,401 343.9,416 348.4,426.5 359.4,427 369.4,421 379.4,414 385.4,417.5 391.4,414 397.4,418 403.4,426 409.4,420.5 415.4,425 421.4,416 427.4,424 433.4,420 439.4,410.5 445.4,414.5 452.4,415 458.4,411 464.4,393 469.9,402.5 479.4,397.5 499.4,389 518.4,382.3 558.9,361.4 592,344.5" fill="none" stroke="#000000" stroke-width="2.5" stroke-linejoin="round" stroke-linecap="round"/></g><rect x="106.5" y="10.1" width="606.3" height="552.1" fill="none" stroke="#000" stroke-width="3.3"/><path d="M227.8,10.1 v12 M227.8,562.2 v-12 M349,10.1 v12 M349,562.2 v-12 M470.3,10.1 v12 M470.3,562.2 v-12 M591.5,10.1 v12 M591.5,562.2 v-12 M106.5,493.2 h12 M712.8,493.2 h-12 M106.5,424.2 h12 M712.8,424.2 h-12 M106.5,355.2 h12 M712.8,355.2 h-12 M106.5,286.2 h12 M712.8,286.2 h-12 M106.5,217.1 h12 M712.8,217.1 h-12 M106.5,148.1 h12 M712.8,148.1 h-12 M106.5,79.1 h12 M712.8,79.1 h-12" stroke="#000" stroke-width="1.6" fill="none"/><g font-family="Liberation Serif"><text transform="translate(63.67,569.14) scale(1.031,0.980)" font-size="26.60">30</text><rect x="45.40" y="561.35" width="16.30" height="1.7"/><text transform="translate(63.67,500.12) scale(1.031,0.988)" font-size="26.60">25</text><rect x="45.40" y="492.34" width="16.30" height="1.7"/><text transform="translate(63.67,431.11) scale(1.031,0.980)" font-size="26.60">20</text><rect x="45.40" y="423.32" width="16.30" height="1.7"/><text transform="translate(63.34,362.10) scale(1.044,0.988)" font-size="26.60">15</text><rect x="46.20" y="354.31" width="16.30" height="1.7"/><text transform="translate(63.34,293.09) scale(1.044,0.980)" font-size="26.60">10</text><rect x="46.20" y="285.30" width="16.30" height="1.7"/><text transform="translate(76.31,224.07) scale(1.118,0.995)" font-size="26.60">5</text><rect x="58.60" y="216.29" width="16.30" height="1.7"/><text transform="translate(76.31,155.06) scale(1.119,0.980)" font-size="26.60">0</text><text transform="translate(76.31,86.05) scale(1.118,0.995)" font-size="26.60">5</text><text transform="translate(63.34,17.04) scale(1.044,0.980)" font-size="26.60">10</text><text transform="translate(110.02,595.70) scale(1.071,0.991)" font-size="26.60">2</text><rect x="91.50" y="587.85" width="16.30" height="1.7"/><text transform="translate(229.44,595.70) scale(1.133,0.991)" font-size="26.60">1</text><rect x="212.00" y="587.85" width="16.30" height="1.7"/><text transform="translate(341.56,595.44) scale(1.074,0.969)" font-size="26.60">0</text><text transform="translate(461.44,595.70) scale(1.133,0.991)" font-size="26.60">1</text><text transform="translate(584.18,595.70) scale(1.100,0.991)" font-size="26.60">2</text><text transform="translate(705.22,595.44) scale(1.069,0.976)" font-size="26.60">3</text><text transform="translate(370.79,638.00) scale(1.089,0.964)" font-size="30.00" font-style="italic">x</text><text transform="translate(388.00,644.27) scale(1.333,1.428)" font-size="30.00">/</text><text transform="translate(401.11,637.72) scale(0.988,0.924)" font-size="30.00" font-style="italic">c</text><text transform="translate(425.23,640.03) scale(0.652,1.153)" font-size="30.00">[</text><rect x="431.9" y="630.7" width="7.6" height="1.7"/><text transform="translate(441.03,640.03) scale(0.637,1.153)" font-size="30.00">]</text><g transform="translate(21.6,382.9) rotate(-90)"><text transform="translate(-0.79,0.28) scale(1.316,0.933)" font-size="30.00" font-style="italic">γ</text><text transform="translate(16.48,-11.20) scale(1.459,1.000)" font-size="20.00" font-style="italic">n</text><text transform="translate(15.78,6.27) scale(0.981,1.007)" font-size="20.00" font-style="italic">p</text><text transform="translate(27.24,6.65) scale(1.843,1.011)" font-size="20.00">(</text><text transform="translate(36.00,5.80) scale(1.591,0.963)" font-size="17.00">1</text><text transform="translate(48.70,10.73) scale(1.727,1.373)" font-size="20.00">/</text><text transform="translate(56.83,5.80) scale(1.574,0.963)" font-size="17.00">1</text><text transform="translate(68.62,6.65) scale(1.462,1.011)" font-size="20.00">)</text><text transform="translate(83.38,0.09) scale(0.980,1.040)" font-size="30.00">(</text><text transform="translate(94.73,-0.16) scale(1.221,0.924)" font-size="30.00" font-style="italic">f</text><text transform="translate(108.67,3.25) scale(0.877,0.729)" font-size="20.00" font-style="italic">c</text><text transform="translate(120.23,0.09) scale(0.962,1.040)" font-size="30.00">)</text><text transform="translate(142.46,2.68) scale(0.727,1.165)" font-size="30.00">[</text><text transform="translate(149.11,0.01) scale(1.040,0.969)" font-size="30.00">d</text><text transform="translate(165.15,-0.15) scale(1.051,1.005)" font-size="30.00">B</text><text transform="translate(185.62,2.68) scale(0.652,1.165)" font-size="30.00">]</text></g><text transform="translate(130.27,534.81) scale(1.107,0.941)" font-size="31.00" font-style="italic">α</text><text transform="translate(156.42,538.49) scale(1.408,1.084)" font-size="31.00">=</text><text transform="translate(187.43,534.80) scale(1.022,0.970)" font-size="31.00">0</text><text transform="translate(202.54,533.11) scale(1.047,0.888)" font-size="31.00">°</text><text transform="translate(217.26,534.94) scale(1.246,1.240)" font-size="31.00">,</text><text transform="translate(236.63,535.10) scale(1.069,1.000)" font-size="31.00" font-style="italic">M</text><text transform="translate(273.42,538.49) scale(1.408,1.084)" font-size="31.00">=</text><text transform="translate(305.26,534.80) scale(0.922,0.970)" font-size="31.00">0</text><text transform="translate(320.50,534.66) scale(0.941,0.941)" font-size="31.00">.</text><text transform="translate(328.26,534.80) scale(0.922,0.970)" font-size="31.00">0</text><text transform="translate(343.53,534.80) scale(0.938,0.977)" font-size="31.00">9</text><line x1="545" y1="483.4" x2="603.5" y2="483.4" stroke="#ff0000" stroke-width="2.8"/><text transform="translate(612.53,491.70) scale(1.207,1.038)" font-size="22.50">7</text><text transform="translate(634.48,491.70) scale(1.156,1.023)" font-size="22.50">kHz</text><line x1="545" y1="505.4" x2="603.5" y2="505.4" stroke="#008000" stroke-width="2.8"/><text transform="translate(612.52,513.70) scale(1.141,1.030)" font-size="22.50">14</text><text transform="translate(647.29,513.70) scale(1.142,1.023)" font-size="22.50">kHz</text><line x1="545" y1="527.9" x2="603.5" y2="527.9" stroke="#000000" stroke-width="2.8"/><text transform="translate(613.56,535.77) scale(1.122,1.007)" font-size="22.50">28</text><text transform="translate(647.29,536.00) scale(1.142,1.023)" font-size="22.50">kHz</text><g transform="translate(-7.60,0)"><text transform="translate(162.91,697.49) scale(1.167,1.099)" font-size="36.00" font-weight="bold">(b)</text><text transform="translate(231.30,696.50) scale(1.111,0.996)" font-size="36.00" font-style="italic">x</text><text transform="translate(252.38,699.76) scale(1.291,0.942)" font-size="25.00" font-style="italic">s</text><text transform="translate(270.00,703.49) scale(1.414,1.410)" font-size="36.00">/</text><text transform="translate(286.21,696.16) scale(1.008,0.955)" font-size="36.00" font-style="italic">c</text><text transform="translate(311.34,699.63) scale(1.476,1.033)" font-size="36.00">=</text><text transform="translate(351.24,696.14) scale(0.873,0.988)" font-size="36.00">0</text><text transform="translate(371.00,696.02) scale(0.856,0.880)" font-size="36.00">.</text><text transform="translate(378.27,696.50) scale(1.166,1.018)" font-size="36.00">7</text><text transform="translate(400.00,696.62) scale(1.111,1.089)" font-size="36.00">,</text><text transform="translate(423.20,696.50) scale(1.099,1.018)" font-size="36.00" font-style="italic">M</text><text transform="translate(469.31,699.63) scale(1.493,1.033)" font-size="36.00">=</text><text transform="translate(508.73,696.14) scale(0.880,0.988)" font-size="36.00">0</text><text transform="translate(528.60,696.02) scale(0.856,0.880)" font-size="36.00">.</text><text transform="translate(541.11,696.14) scale(0.827,0.988)" font-size="36.00">0</text><text transform="translate(559.63,696.14) scale(0.807,0.995)" font-size="36.00">9</text></g></g></g><g transform="translate(387.9,773.8)"><clipPath id="clipc"><rect x="106.5" y="10.1" width="606.3" height="552.1"/></clipPath><line x1="349" y1="8.6" x2="349" y2="562.2" stroke="#000" stroke-width="2" stroke-dasharray="19.3 18.7" stroke-dashoffset="-0.8"/><line x1="470.3" y1="8.6" x2="470.3" y2="562.2" stroke="#000" stroke-width="2" stroke-dasharray="19.3 18.7" stroke-dashoffset="-0.8"/><path d="M349.0,79.1 L349.2,77.7 L349.8,76.4 L350.7,75.2 L352.0,74.0 L353.6,72.8 L355.6,71.8 L358.0,70.8 L360.6,70.0 L363.5,69.2 L366.8,68.6 L370.3,68.1 L374.0,67.7 L378.0,67.4 L382.1,67.2 L386.4,67.2 L390.9,67.3 L395.5,67.5 L400.2,67.8 L404.9,68.2 L409.6,68.6 L414.4,69.1 L419.1,69.7 L423.8,70.3 L428.4,71.0 L432.9,71.7 L437.2,72.4 L441.3,73.1 L445.3,73.8 L449.0,74.5 L452.5,75.1 L455.8,75.8 L458.7,76.4 L461.3,76.9 L463.7,77.4 L465.7,77.8 L467.3,78.2 L468.6,78.5 L469.5,78.7 L470.1,78.8 L470.3,78.9 L470.1,79.4 L469.5,79.5 L468.6,79.7 L467.3,80.0 L465.7,80.4 L463.7,80.8 L461.3,81.3 L458.7,81.9 L455.8,82.5 L452.5,83.1 L449.0,83.8 L445.3,84.4 L441.3,85.1 L437.2,85.8 L432.9,86.5 L428.4,87.2 L423.8,87.9 L419.1,88.5 L414.4,89.1 L409.6,89.6 L404.9,90.1 L400.2,90.4 L395.5,90.7 L390.9,90.9 L386.4,91.0 L382.1,91.0 L378.0,90.8 L374.0,90.6 L370.3,90.2 L366.8,89.6 L363.5,89.0 L360.6,88.2 L358.0,87.4 L355.6,86.4 L353.6,85.4 L352.0,84.2 L350.7,83.1 L349.8,81.8 L349.2,80.5 L349.0,79.1 Z" fill="none" stroke="#000" stroke-width="2"/><line x1="306" y1="79.1" x2="513" y2="79.1" stroke="#000" stroke-width="2"/><circle cx="394.4" cy="79.1" r="7.2" fill="none" stroke="#000" stroke-width="2"/><path d="M389.3,74.0 L399.5,84.2 M389.3,84.2 L399.5,74.0" stroke="#000" stroke-width="2"/><path d="M287.8,64.9 L348.8,64.9 C350,58 358,53.5 372,53 C395,52 420,55.5 440,59 C455,61.5 463,63.5 470.6,64.9 L530.4,64.9" fill="none" stroke="#000" stroke-width="2" stroke-dasharray="13 6.5"/><circle cx="433.8" cy="43.8" r="4.9" fill="#ff0000" stroke="#000" stroke-width="1.7"/><g clip-path="url(#clipc)"><path d="M108.1,297.7 C112.4,297.9 126.4,298.1 134.1,298.7 C141.8,299.3 147.4,300.1 154.1,301.2 C160.8,302.3 167.4,304 174.1,305.2 C180.8,306.4 189.1,307.9 194.1,308.2 C199.1,308.4 200.8,307.6 204.1,306.7 C207.4,305.8 209.8,304 214.1,302.7 C218.4,301.4 226.1,299 230.1,298.7 C234.1,298.4 236.1,300 238.1,300.7 C240.1,301.4 240.7,301.6 242,303 C243.3,304.4 244.9,307.5 246.1,309.2 C247.3,310.9 248.2,311.7 249,313 C249.8,314.3 250.8,316.5 251.1,317.2" fill="none" stroke="#ff0000" stroke-width="6.0" stroke-linejoin="round" stroke-linecap="round"/><circle cx="253.6" cy="322.7" r="2.8" fill="#ff0000"/><circle cx="256.1" cy="329.2" r="2.8" fill="#ff0000"/><circle cx="258.6" cy="337.7" r="2.8" fill="#ff0000"/><circle cx="261.1" cy="347.2" r="2.8" fill="#ff0000"/><circle cx="263.6" cy="357.2" r="2.8" fill="#ff0000"/><circle cx="266.1" cy="370.7" r="2.8" fill="#ff0000"/><circle cx="268.6" cy="385.2" r="2.8" fill="#ff0000"/><circle cx="271.1" cy="401.7" r="2.8" fill="#ff0000"/><circle cx="273.6" cy="416.2" r="2.8" fill="#ff0000"/><circle cx="275.6" cy="429.2" r="2.8" fill="#ff0000"/><circle cx="278" cy="433" r="2.8" fill="#ff0000"/><circle cx="280.1" cy="429.2" r="2.8" fill="#ff0000"/><circle cx="283.1" cy="417.7" r="2.8" fill="#ff0000"/><circle cx="285.6" cy="399.2" r="2.8" fill="#ff0000"/><circle cx="288.1" cy="380.2" r="2.8" fill="#ff0000"/><circle cx="290.6" cy="365.7" r="2.8" fill="#ff0000"/><circle cx="293.1" cy="349.2" r="2.8" fill="#ff0000"/><circle cx="295.6" cy="336.2" r="2.8" fill="#ff0000"/><circle cx="298.1" cy="324.7" r="2.8" fill="#ff0000"/><circle cx="300.6" cy="316.2" r="2.8" fill="#ff0000"/><circle cx="303.1" cy="308.7" r="2.8" fill="#ff0000"/><circle cx="305.6" cy="302.2" r="2.8" fill="#ff0000"/><circle cx="308.1" cy="297.2" r="2.8" fill="#ff0000"/><circle cx="311.1" cy="293.7" r="2.8" fill="#ff0000"/><circle cx="314.6" cy="292.2" r="2.8" fill="#ff0000"/><circle cx="318.1" cy="294.2" r="2.8" fill="#ff0000"/><circle cx="320.6" cy="297.7" r="2.8" fill="#ff0000"/><circle cx="323.1" cy="302.7" r="2.8" fill="#ff0000"/><circle cx="325.6" cy="309.7" r="2.8" fill="#ff0000"/><circle cx="328.1" cy="317.7" r="2.8" fill="#ff0000"/><circle cx="330.6" cy="328.7" r="2.8" fill="#ff0000"/><circle cx="333.1" cy="341.7" r="2.8" fill="#ff0000"/><circle cx="335.6" cy="358.2" r="2.8" fill="#ff0000"/><circle cx="337.6" cy="373.7" r="2.8" fill="#ff0000"/><circle cx="340.1" cy="392.7" r="2.8" fill="#ff0000"/><circle cx="342.6" cy="410.2" r="2.8" fill="#ff0000"/><circle cx="346.6" cy="419.7" r="2.8" fill="#ff0000"/><circle cx="348.1" cy="418.7" r="2.8" fill="#ff0000"/><circle cx="350.1" cy="407.2" r="2.8" fill="#ff0000"/><circle cx="352.6" cy="390.2" r="2.8" fill="#ff0000"/><circle cx="355" cy="375" r="2.8" fill="#ff0000"/><circle cx="357.6" cy="360.2" r="2.8" fill="#ff0000"/><circle cx="360.1" cy="347.2" r="2.8" fill="#ff0000"/><circle cx="362.6" cy="338.2" r="2.8" fill="#ff0000"/><circle cx="365.1" cy="329.7" r="2.8" fill="#ff0000"/><circle cx="367.6" cy="323.7" r="2.8" fill="#ff0000"/><path d="M367.6,323.7 C368,323.1 368.9,321.4 370.1,320.2 C371.4,318.9 373.4,316.5 375.1,316.2 C376.8,315.9 378.3,317.2 380.1,318.2 C381.9,319.2 384.1,320.5 386.1,322.2 C388.1,323.9 389.8,326.7 392.1,328.2 C394.4,329.7 397.1,330.7 400.1,331.2 C403.1,331.7 407.1,330.7 410.1,331.2 C413.1,331.7 415.3,333.1 418.1,334.2 C420.9,335.3 424.4,337.5 427.1,337.7 C429.8,337.9 431.6,337.1 434.1,335.2 C436.6,333.3 439.4,329 442.1,326.2 C444.8,323.4 447.4,320.3 450.1,318.2 C452.8,316.1 455.1,314.4 458.1,313.7 C461.1,313 464.8,314.2 468.1,314.2 C471.4,314.2 474.4,314.4 478.1,313.7 C481.8,313 486.4,311.2 490.1,310.2 C493.8,309.2 496.8,308.5 500.1,307.7 C503.4,306.9 507,306.1 510,305.5 C513,304.9 515,304.8 518,304 C521,303.2 523.6,302.9 528,300.5 C532.4,298.1 539.2,292.6 544.1,289.6 C549,286.7 552,285 557.6,282.8 C563.2,280.6 572.3,278.5 577.9,276.7 C583.5,274.9 585.8,274.1 591.4,272 C597,269.9 603.8,266.9 611.7,263.9 C619.6,260.9 629.7,257.3 638.7,253.8 C647.7,250.3 656.7,246.5 665.7,243 C674.7,239.5 685.1,235.6 692.8,232.8 C700.5,230.1 708.8,227.6 712,226.5" fill="none" stroke="#ff0000" stroke-width="6.0" stroke-linejoin="round" stroke-linecap="round"/><path d="M108.1,326.2 C109.9,327.4 114.8,330.9 119.1,333.2 C123.4,335.5 129.1,338.5 134.1,340.2 C139.1,341.9 144.1,342.4 149.1,343.2 C154.1,343.9 158.3,343.7 164.1,344.7 C169.9,345.7 177.4,348.9 184.1,349.2 C190.8,349.5 199.8,346.7 204.1,346.7 C208.4,346.7 208.1,347.6 210.1,349.2 C212.1,350.8 213.8,353 216.1,356.2 C218.4,359.4 221.8,364.9 224.1,368.2 C226.4,371.5 228.3,374.4 230.1,376.2 C231.9,378 233.1,379.4 235.1,379.2 C237.1,379 239.8,376.9 242.1,375.2 C244.4,373.5 247.4,370.4 249.1,369.2 C250.8,368 250.3,368.4 252.1,368.2 C253.9,367.9 257.9,368.2 260.1,367.7 C262.3,367.2 263.4,366.6 265.1,365.2 C266.8,363.8 268.4,361 270.1,359.2 C271.8,357.4 273.7,355.2 275.1,354.2 C276.5,353.2 277.5,352.9 278.6,353.2 C279.7,353.5 281.1,355.7 281.6,356.2" fill="none" stroke="#008000" stroke-width="6.0" stroke-linejoin="round" stroke-linecap="round"/><circle cx="283.1" cy="361.7" r="2.8" fill="#008000"/><circle cx="285.6" cy="371.7" r="2.8" fill="#008000"/><circle cx="288.1" cy="388.2" r="2.8" fill="#008000"/><circle cx="290.6" cy="408.2" r="2.8" fill="#008000"/><circle cx="293.1" cy="438.7" r="2.8" fill="#008000"/><circle cx="295.6" cy="469.7" r="2.8" fill="#008000"/><circle cx="298.6" cy="473.2" r="2.8" fill="#008000"/><circle cx="300.1" cy="446.2" r="2.8" fill="#008000"/><circle cx="303.1" cy="409.2" r="2.8" fill="#008000"/><circle cx="305.6" cy="379.7" r="2.8" fill="#008000"/><circle cx="308.1" cy="359.2" r="2.8" fill="#008000"/><circle cx="310.6" cy="347.2" r="2.8" fill="#008000"/><circle cx="313.1" cy="340.2" r="2.8" fill="#008000"/><circle cx="315.6" cy="338.7" r="2.8" fill="#008000"/><circle cx="318.1" cy="344.7" r="2.8" fill="#008000"/><circle cx="320.1" cy="355.2" r="2.8" fill="#008000"/><circle cx="322.6" cy="374.7" r="2.8" fill="#008000"/><circle cx="325.1" cy="403.2" r="2.8" fill="#008000"/><circle cx="327.6" cy="435" r="2.8" fill="#008000"/><circle cx="330.1" cy="466.2" r="2.8" fill="#008000"/><circle cx="333.1" cy="459.2" r="2.8" fill="#008000"/><circle cx="334.6" cy="427.2" r="2.8" fill="#008000"/><circle cx="337.6" cy="401.7" r="2.8" fill="#008000"/><circle cx="340.1" cy="381.2" r="2.8" fill="#008000"/><circle cx="342.6" cy="368.7" r="2.8" fill="#008000"/><circle cx="345.1" cy="363.2" r="2.8" fill="#008000"/><path d="M345.1,363.2 C345.6,362.9 346.8,360.5 348.1,361.7 C349.4,362.9 351.8,367.8 353.1,370.2 C354.4,372.6 354.9,374.6 356.1,376.2 C357.3,377.8 358.6,378.7 360.1,379.7 C361.6,380.7 363.4,381.1 365.1,382.2 C366.8,383.3 368.4,384.5 370.1,386.2 C371.8,387.9 373.6,391.9 375.1,392.2 C376.6,392.5 377.9,390.2 379.1,388.2 C380.3,386.2 381.1,382.7 382.1,380.2 C383.1,377.7 383.8,374.7 385.1,373.2 C386.4,371.7 387.6,370.7 390.1,371.2 C392.6,371.7 396.8,374.8 400.1,376.2 C403.4,377.6 407.4,378.9 410.1,379.7 C412.8,380.5 414.1,381.4 416.1,381.2 C418.1,380.9 420.1,380.2 422.1,378.2 C424.1,376.2 425.8,371 428.1,369.2 C430.4,367.4 433.3,367.4 436.1,367.2 C438.9,366.9 441.8,367.7 445.1,367.7 C448.4,367.7 453.1,367.9 456.1,367.2 C459.1,366.4 460.8,364.9 463.1,363.2 C465.4,361.5 467.3,358.7 470.1,357.2 C472.9,355.7 476.8,355.2 480.1,354.2 C483.4,353.2 486.8,352.2 490.1,351.2 C493.4,350.2 497.1,349.5 500.1,348.2 C503.1,346.9 505.3,344.5 508.1,343.2 C510.9,341.9 513.4,341.6 517.1,340.3 C520.9,339 525,337.6 530.6,335.5 C536.2,333.4 545.3,329.9 550.9,327.4 C556.5,324.9 559.9,323.4 564.4,320.7 C568.9,318 573.4,313.9 577.9,311.2 C582.4,308.5 585.8,306.9 591.4,304.4 C597,301.9 603.8,299.9 611.7,296.3 C619.6,292.7 629.7,287.8 638.7,282.8 C647.7,277.9 656.7,271.6 665.7,266.6 C674.7,261.7 685.1,256.8 692.8,253.1 C700.5,249.4 708.8,245.9 712,244.5" fill="none" stroke="#008000" stroke-width="6.0" stroke-linejoin="round" stroke-linecap="round"/><path d="M108.1,368.2 C109.9,368.7 115.3,370.3 119.1,371.2 C122.9,372.1 127.8,372.4 131.1,373.7 C134.4,375 136.1,377.1 139.1,379.2 C142.1,381.3 145.8,384.4 149.1,386.2 C152.4,387.9 154.9,388.5 159.1,389.7 C163.3,390.9 169.1,392.4 174.1,393.2 C179.1,393.9 185.4,393.2 189.1,394.2 C192.8,395.2 193.6,396.9 196.1,399.2 C198.6,401.5 201.9,406.4 204.1,408.2 C206.3,409.9 206.6,409.9 209.1,409.7 C211.6,409.5 216.6,407.5 219.1,407.2 C221.6,406.9 221.9,408 224.1,407.7 C226.3,407.4 230.1,404.9 232.1,405.2 C234.1,405.4 234.9,407.7 236.1,409.2 C237.3,410.7 238.1,412.7 239.1,414.2 C240.1,415.7 241.1,416.7 242.1,418.2 C243.1,419.7 243.8,422.9 245.1,423.2 C246.4,423.5 247.6,421.4 250.1,420.2 C252.6,419 257.6,417.5 260.1,416.2 C262.6,414.9 263.6,413 265.1,412.2 C266.6,411.4 268.4,411.4 269.1,411.2" fill="none" stroke="#000000" stroke-width="6.0" stroke-linejoin="round" stroke-linecap="round"/><circle cx="271.1" cy="416.2" r="2.8" fill="#000000"/><circle cx="273.1" cy="424.2" r="2.8" fill="#000000"/><circle cx="275.1" cy="433.7" r="2.8" fill="#000000"/><circle cx="278.1" cy="438.7" r="2.8" fill="#000000"/><circle cx="281.1" cy="435.7" r="2.8" fill="#000000"/><circle cx="283.1" cy="430.2" r="2.8" fill="#000000"/><circle cx="286" cy="426" r="2.8" fill="#000000"/><circle cx="290.1" cy="421.7" r="2.8" fill="#000000"/><circle cx="293.1" cy="415.2" r="2.8" fill="#000000"/><circle cx="296" cy="410" r="2.8" fill="#000000"/><circle cx="298.1" cy="409.7" r="2.8" fill="#000000"/><circle cx="300.1" cy="423.7" r="2.8" fill="#000000"/><circle cx="303.1" cy="461.7" r="2.8" fill="#000000"/><circle cx="305.6" cy="514.2" r="2.8" fill="#000000"/><circle cx="308.1" cy="477.2" r="2.8" fill="#000000"/><circle cx="310.1" cy="427.2" r="2.8" fill="#000000"/><circle cx="312.6" cy="396.7" r="2.8" fill="#000000"/><circle cx="315.1" cy="391.2" r="2.8" fill="#000000"/><circle cx="318.1" cy="412.7" r="2.8" fill="#000000"/><circle cx="320.1" cy="454.2" r="2.8" fill="#000000"/><circle cx="322.6" cy="510.7" r="2.8" fill="#000000"/><circle cx="325.6" cy="474.2" r="2.8" fill="#000000"/><circle cx="327.6" cy="434.7" r="2.8" fill="#000000"/><circle cx="330.1" cy="415.2" r="2.8" fill="#000000"/><circle cx="333.1" cy="415.2" r="2.8" fill="#000000"/><circle cx="335.1" cy="422.7" r="2.8" fill="#000000"/><circle cx="338.1" cy="427.7" r="2.8" fill="#000000"/><circle cx="340.1" cy="430.2" r="2.8" fill="#000000"/><circle cx="342.6" cy="436.7" r="2.8" fill="#000000"/><circle cx="345.1" cy="444.2" r="2.8" fill="#000000"/><circle cx="348.1" cy="444.2" r="2.8" fill="#000000"/><circle cx="350.1" cy="434.2" r="2.8" fill="#000000"/><path d="M350.1,427.2 C350.8,426.5 352.4,422.7 354.1,423.2 C355.8,423.7 357.9,427.8 360.1,430.2 C362.3,432.6 365.3,436.7 367.1,437.7 C368.9,438.7 369.9,437.9 371.1,436.2 C372.3,434.4 372.8,428.5 374.1,427.2 C375.4,425.9 376.6,427 379.1,428.2 C381.6,429.4 386.6,434.4 389.1,434.2 C391.6,434 392.8,428.9 394.1,427.2 C395.4,425.5 394.6,423.8 397.1,424.2 C399.6,424.6 406.1,429.9 409.1,429.7 C412.1,429.5 413.3,424.5 415.1,423.2 C416.9,421.9 417.6,421.7 420.1,421.7 C422.6,421.7 427.4,423.7 430.1,423.2 C432.8,422.7 434.4,419.7 436.1,418.7 C437.8,417.7 437.8,417.5 440.1,417.2 C442.4,416.9 446.8,417.7 450.1,416.7 C453.4,415.7 456.8,412.4 460.1,411.2 C463.4,409.9 466.8,410.4 470.1,409.2 C473.4,408 476.8,405.3 480.1,404 C483.4,402.7 486.8,402.3 490.1,401.2 C493.4,400.1 496.8,398.7 500.1,397.2 C503.4,395.7 507.3,393.5 510.1,392.2 C512.9,390.9 513.7,390.7 517.1,389.6 C520.5,388.5 525,388.4 530.6,385.5 C536.2,382.6 544.1,376.3 550.9,372 C557.7,367.7 564.5,363.9 571.2,359.8 C578,355.8 584.6,351.8 591.4,347.7 C598.1,343.6 604.9,340 611.7,335.5 C618.5,331 623,327 632,320.7 C641,314.4 655.6,304.7 665.7,297.7 C675.8,290.7 685.1,284.3 692.8,278.8 C700.5,273.3 708.8,267.1 712,264.8" fill="none" stroke="#000000" stroke-width="6.0" stroke-linejoin="round" stroke-linecap="round"/><polyline points="227.1,352.2 288.1,350.7 336.6,413.7 348.1,366.2 355.1,366.2 363.1,376.2 370.1,383.2 376.1,388.2 380,383 385,370 390.1,364.7 397.1,364.7 402.1,374.2 408,375.5 413.1,376.2 415.6,366.7 421.1,380.7 428.1,362.2 433.1,370.2 440.1,361.7 446.1,378.2 452.1,378.2 465.1,369.2 470.1,370.2 483.1,359.2 500.1,355.2 517.1,353.1 530.6,350.4 550.9,334.2 571.2,319.3 591.4,305.5" fill="none" stroke="#008000" stroke-width="2.5" stroke-linejoin="round" stroke-linecap="round"/><polyline points="227.1,393.7 252.1,401.2 289.1,410.7 296.1,408.2 336.1,394.7 346.1,420.2 349.1,444.2 350.1,429.2 355.1,414.2 361.1,410.7 368.1,425.2 372.1,430.2 379.1,415.2 385.1,426.2 391.1,420.2 397.6,410.2 410.1,424.2 415.6,411.7 421.1,419.2 427.6,409.2 434.1,416.2 440,415 450,414 458,410 464.1,401.2 470.1,406.2 482.1,398.2 500,393 517.1,387 530.6,382.8 557.6,365.3 592.1,341" fill="none" stroke="#000000" stroke-width="2.5" stroke-linejoin="round" stroke-linecap="round"/></g><rect x="106.5" y="10.1" width="606.3" height="552.1" fill="none" stroke="#000" stroke-width="3.3"/><path d="M227.8,10.1 v12 M227.8,562.2 v-12 M349,10.1 v12 M349,562.2 v-12 M470.3,10.1 v12 M470.3,562.2 v-12 M591.5,10.1 v12 M591.5,562.2 v-12 M106.5,493.2 h12 M712.8,493.2 h-12 M106.5,424.2 h12 M712.8,424.2 h-12 M106.5,355.2 h12 M712.8,355.2 h-12 M106.5,286.2 h12 M712.8,286.2 h-12 M106.5,217.1 h12 M712.8,217.1 h-12 M106.5,148.1 h12 M712.8,148.1 h-12 M106.5,79.1 h12 M712.8,79.1 h-12" stroke="#000" stroke-width="1.6" fill="none"/><g font-family="Liberation Serif"><text transform="translate(63.67,569.14) scale(1.031,0.980)" font-size="26.60">30</text><rect x="45.40" y="561.35" width="16.30" height="1.7"/><text transform="translate(63.67,500.12) scale(1.031,0.988)" font-size="26.60">25</text><rect x="45.40" y="492.34" width="16.30" height="1.7"/><text transform="translate(63.67,431.11) scale(1.031,0.980)" font-size="26.60">20</text><rect x="45.40" y="423.32" width="16.30" height="1.7"/><text transform="translate(63.34,362.10) scale(1.044,0.988)" font-size="26.60">15</text><rect x="46.20" y="354.31" width="16.30" height="1.7"/><text transform="translate(63.34,293.09) scale(1.044,0.980)" font-size="26.60">10</text><rect x="46.20" y="285.30" width="16.30" height="1.7"/><text transform="translate(76.31,224.07) scale(1.118,0.995)" font-size="26.60">5</text><rect x="58.60" y="216.29" width="16.30" height="1.7"/><text transform="translate(76.31,155.06) scale(1.119,0.980)" font-size="26.60">0</text><text transform="translate(76.31,86.05) scale(1.118,0.995)" font-size="26.60">5</text><text transform="translate(63.34,17.04) scale(1.044,0.980)" font-size="26.60">10</text><text transform="translate(110.02,595.70) scale(1.071,0.991)" font-size="26.60">2</text><rect x="91.50" y="587.85" width="16.30" height="1.7"/><text transform="translate(229.44,595.70) scale(1.133,0.991)" font-size="26.60">1</text><rect x="212.00" y="587.85" width="16.30" height="1.7"/><text transform="translate(341.56,595.44) scale(1.074,0.969)" font-size="26.60">0</text><text transform="translate(461.44,595.70) scale(1.133,0.991)" font-size="26.60">1</text><text transform="translate(584.18,595.70) scale(1.100,0.991)" font-size="26.60">2</text><text transform="translate(705.22,595.44) scale(1.069,0.976)" font-size="26.60">3</text><text transform="translate(370.79,638.00) scale(1.089,0.964)" font-size="30.00" font-style="italic">x</text><text transform="translate(388.00,644.27) scale(1.333,1.428)" font-size="30.00">/</text><text transform="translate(401.11,637.72) scale(0.988,0.924)" font-size="30.00" font-style="italic">c</text><text transform="translate(425.23,640.03) scale(0.652,1.153)" font-size="30.00">[</text><rect x="431.9" y="630.7" width="7.6" height="1.7"/><text transform="translate(441.03,640.03) scale(0.637,1.153)" font-size="30.00">]</text><g transform="translate(21.6,382.9) rotate(-90)"><text transform="translate(-0.79,0.28) scale(1.316,0.933)" font-size="30.00" font-style="italic">γ</text><text transform="translate(16.48,-11.20) scale(1.459,1.000)" font-size="20.00" font-style="italic">n</text><text transform="translate(15.78,6.27) scale(0.981,1.007)" font-size="20.00" font-style="italic">p</text><text transform="translate(27.24,6.65) scale(1.843,1.011)" font-size="20.00">(</text><text transform="translate(36.00,5.80) scale(1.591,0.963)" font-size="17.00">1</text><text transform="translate(48.70,10.73) scale(1.727,1.373)" font-size="20.00">/</text><text transform="translate(56.83,5.80) scale(1.574,0.963)" font-size="17.00">1</text><text transform="translate(68.62,6.65) scale(1.462,1.011)" font-size="20.00">)</text><text transform="translate(83.38,0.09) scale(0.980,1.040)" font-size="30.00">(</text><text transform="translate(94.73,-0.16) scale(1.221,0.924)" font-size="30.00" font-style="italic">f</text><text transform="translate(108.67,3.25) scale(0.877,0.729)" font-size="20.00" font-style="italic">c</text><text transform="translate(120.23,0.09) scale(0.962,1.040)" font-size="30.00">)</text><text transform="translate(142.46,2.68) scale(0.727,1.165)" font-size="30.00">[</text><text transform="translate(149.11,0.01) scale(1.040,0.969)" font-size="30.00">d</text><text transform="translate(165.15,-0.15) scale(1.051,1.005)" font-size="30.00">B</text><text transform="translate(185.62,2.68) scale(0.652,1.165)" font-size="30.00">]</text></g><text transform="translate(130.27,534.81) scale(1.107,0.941)" font-size="31.00" font-style="italic">α</text><text transform="translate(156.42,538.49) scale(1.408,1.084)" font-size="31.00">=</text><text transform="translate(187.43,534.80) scale(1.022,0.970)" font-size="31.00">0</text><text transform="translate(202.54,533.11) scale(1.047,0.888)" font-size="31.00">°</text><text transform="translate(217.26,534.94) scale(1.246,1.240)" font-size="31.00">,</text><text transform="translate(236.63,535.10) scale(1.069,1.000)" font-size="31.00" font-style="italic">M</text><text transform="translate(273.42,538.49) scale(1.408,1.084)" font-size="31.00">=</text><text transform="translate(304.12,534.80) scale(1.029,0.970)" font-size="31.00">0</text><text transform="translate(321.06,534.66) scale(0.914,0.941)" font-size="31.00">.</text><text transform="translate(327.60,535.10) scale(1.063,0.992)" font-size="31.00">1</text><text transform="translate(344.31,534.80) scale(0.878,0.977)" font-size="31.00">6</text><line x1="545" y1="505.4" x2="603.5" y2="505.4" stroke="#008000" stroke-width="2.8"/><text transform="translate(612.52,513.70) scale(1.141,1.030)" font-size="22.50">14</text><text transform="translate(647.29,513.70) scale(1.142,1.023)" font-size="22.50">kHz</text><line x1="545" y1="527.9" x2="603.5" y2="527.9" stroke="#000000" stroke-width="2.8"/><text transform="translate(613.56,535.77) scale(1.122,1.007)" font-size="22.50">28</text><text transform="translate(647.29,536.00) scale(1.142,1.023)" font-size="22.50">kHz</text><g transform="translate(-9.90,0)"><text transform="translate(159.62,697.49) scale(1.157,1.099)" font-size="36.00" font-weight="bold">(c)</text><text transform="translate(231.30,696.50) scale(1.111,0.996)" font-size="36.00" font-style="italic">x</text><text transform="translate(252.38,699.76) scale(1.291,0.942)" font-size="25.00" font-style="italic">s</text><text transform="translate(270.00,703.49) scale(1.414,1.410)" font-size="36.00">/</text><text transform="translate(286.21,696.16) scale(1.008,0.955)" font-size="36.00" font-style="italic">c</text><text transform="translate(311.34,699.63) scale(1.476,1.033)" font-size="36.00">=</text><text transform="translate(351.24,696.14) scale(0.873,0.988)" font-size="36.00">0</text><text transform="translate(371.00,696.02) scale(0.856,0.880)" font-size="36.00">.</text><text transform="translate(378.27,696.50) scale(1.166,1.018)" font-size="36.00">7</text><text transform="translate(400.00,696.62) scale(1.111,1.089)" font-size="36.00">,</text><text transform="translate(423.20,696.50) scale(1.099,1.018)" font-size="36.00" font-style="italic">M</text><text transform="translate(469.31,699.63) scale(1.493,1.033)" font-size="36.00">=</text><text transform="translate(508.73,696.14) scale(0.880,0.988)" font-size="36.00">0</text><text transform="translate(528.60,696.02) scale(0.856,0.880)" font-size="36.00">.</text><text transform="translate(541.35,696.50) scale(0.704,1.010)" font-size="36.00">1</text><text transform="translate(559.64,696.14) scale(0.807,0.995)" font-size="36.00">6</text></g></g></g>
</svg></body></html>
